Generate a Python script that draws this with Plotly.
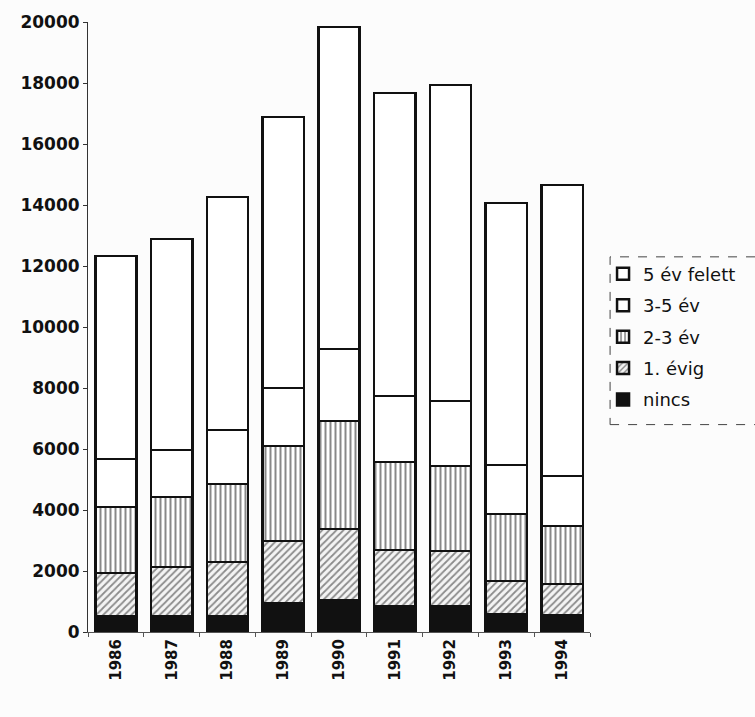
import plotly.graph_objects as go

years = ["1986", "1987", "1988", "1989", "1990", "1991", "1992", "1993", "1994"]

# Segment values per year (stacked bottom to top)
nincs = [530, 520, 520, 950, 1050, 850, 850, 590, 560]
evig_1 = [1410, 1610, 1780, 2040, 2330, 1840, 1810, 1080, 1010]
ev_2_3 = [2160, 2300, 2550, 3110, 3540, 2880, 2780, 2200, 1900]
ev_3_5 = [1570, 1540, 1770, 1900, 2360, 2170, 2130, 1610, 1640]
ev_5_felett = [6660, 6920, 7640, 8890, 10560, 9930, 10360, 8590, 9540]

y_ticks = [0, 2000, 4000, 6000, 8000, 10000, 12000, 14000, 16000, 18000, 20000]

series = [
    ("nincs", nincs, dict(color="#111111")),
    ("1. évig", evig_1, dict(color="white", pattern=dict(shape="/", fgcolor="#222222", bgcolor="#f4f4f4", size=5, solidity=0.35))),
    ("2-3 év", ev_2_3, dict(color="white", pattern=dict(shape="|", fgcolor="#111111", bgcolor="white", size=5, solidity=0.4))),
    ("3-5 év", ev_3_5, dict(color="white")),
    ("5 év felett", ev_5_felett, dict(color="white")),
]

fig = go.Figure()
for i, (name, vals, mk) in enumerate(series):
    mk = dict(mk)
    mk["line"] = dict(color="#111111", width=2.5)
    fig.add_trace(go.Bar(
        x=years, y=vals, name=name, marker=mk,
        legendgroup=name, legendrank=len(series) - i, width=0.74,
    ))

fig.update_layout(
    barmode="stack",
    width=755, height=717,
    margin=dict(l=88, r=165, t=22, b=85),
    paper_bgcolor="#fcfcfc",
    plot_bgcolor="#fcfcfc",
    font=dict(family="DejaVu Sans, Liberation Sans, Arial, sans-serif", color="#111111"),
    showlegend=True,
    legend=dict(
        traceorder="grouped",
        x=1.026, xanchor="left",
        y=0.617, yanchor="top",
        font=dict(size=18, color="#111111"),
        tracegroupgap=5,
        bgcolor="rgba(0,0,0,0)",
        itemwidth=30,
    ),
)

fig.update_yaxes(
    range=[0, 20000],
    tickvals=y_ticks,
    ticktext=[str(v) for v in y_ticks],
    showgrid=False, zeroline=False,
    showline=True, linecolor="#333333", linewidth=1,
    ticks="outside", ticklen=4, tickcolor="#333333",
    tickfont=dict(size=17, weight="bold"),
)
fig.update_xaxes(
    range=[-0.5, 8.5],
    showgrid=False,
    showline=True, linecolor="#555555", linewidth=1,
    ticks="outside", ticklen=4, tickcolor="#555555",
    tickson="boundaries",
    tickangle=-90,
    tickfont=dict(size=15, weight="bold"),
)

# dashed frame around the legend
fig.add_shape(
    type="rect", xref="paper", yref="paper",
    x0=1.04, x1=1.34, y0=0.34, y1=0.615,
    line=dict(color="#444444", width=1, dash="dash"),
)

fig.write_html("out.html")
